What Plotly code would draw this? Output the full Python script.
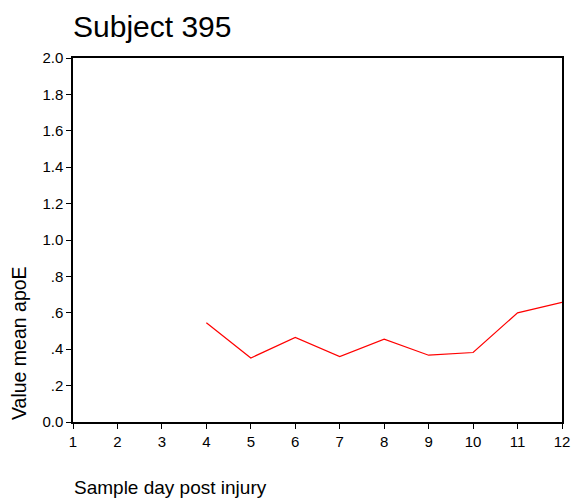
import plotly.graph_objects as go

# Sample days and mean apoE values for subject 395
days = [4, 5, 6, 7, 8, 9, 10, 11, 12]
apoe = [0.545, 0.352, 0.465, 0.360, 0.455, 0.367, 0.382, 0.600, 0.657]

y_tickvals = [0.0, 0.2, 0.4, 0.6, 0.8, 1.0, 1.2, 1.4, 1.6, 1.8, 2.0]
y_ticktext = ["0.0", ".2", ".4", ".6", ".8", "1.0", "1.2", "1.4", "1.6", "1.8", "2.0"]
x_tickvals = list(range(1, 13))

FONT = "Liberation Sans, Arial, sans-serif"

fig = go.Figure()
fig.add_trace(go.Scatter(
    x=days, y=apoe, mode="lines",
    line=dict(color="#ff0000", width=1.2),
    showlegend=False, hoverinfo="skip", cliponaxis=False,
))

axis_style = dict(
    showgrid=False, zeroline=False, automargin=False,
    showline=True, linecolor="black", linewidth=1.5, mirror=True,
    ticks="outside", ticklen=5, tickwidth=1, tickcolor="black",
    tickfont=dict(size=15, family=FONT),
)

fig.update_layout(
    width=575, height=503,
    margin=dict(l=73, r=13, t=58, b=81),
    paper_bgcolor="white", plot_bgcolor="white",
    font=dict(family=FONT, color="black", size=15),
    xaxis=dict(range=[1, 12], tickvals=x_tickvals, **axis_style),
    yaxis=dict(range=[0, 2.0], tickvals=y_tickvals, ticktext=y_ticktext, **axis_style),
    annotations=[
        dict(text="Subject 395", xref="paper", yref="paper", x=0, y=1,
             xanchor="left", yanchor="bottom", yshift=13, xshift=-2,
             showarrow=False, font=dict(size=30, family=FONT)),
        dict(text="Value mean apoE", xref="paper", yref="paper", x=0, y=0,
             xanchor="center", yanchor="bottom", xshift=-54, yshift=0,
             textangle=-90, showarrow=False, font=dict(size=19.5, family=FONT)),
        dict(text="Sample day post injury", xref="paper", yref="paper", x=0, y=0,
             xanchor="left", yanchor="top", yshift=-53, xshift=-1,
             showarrow=False, font=dict(size=19, family=FONT)),
    ],
)

fig.write_html("out.html")
